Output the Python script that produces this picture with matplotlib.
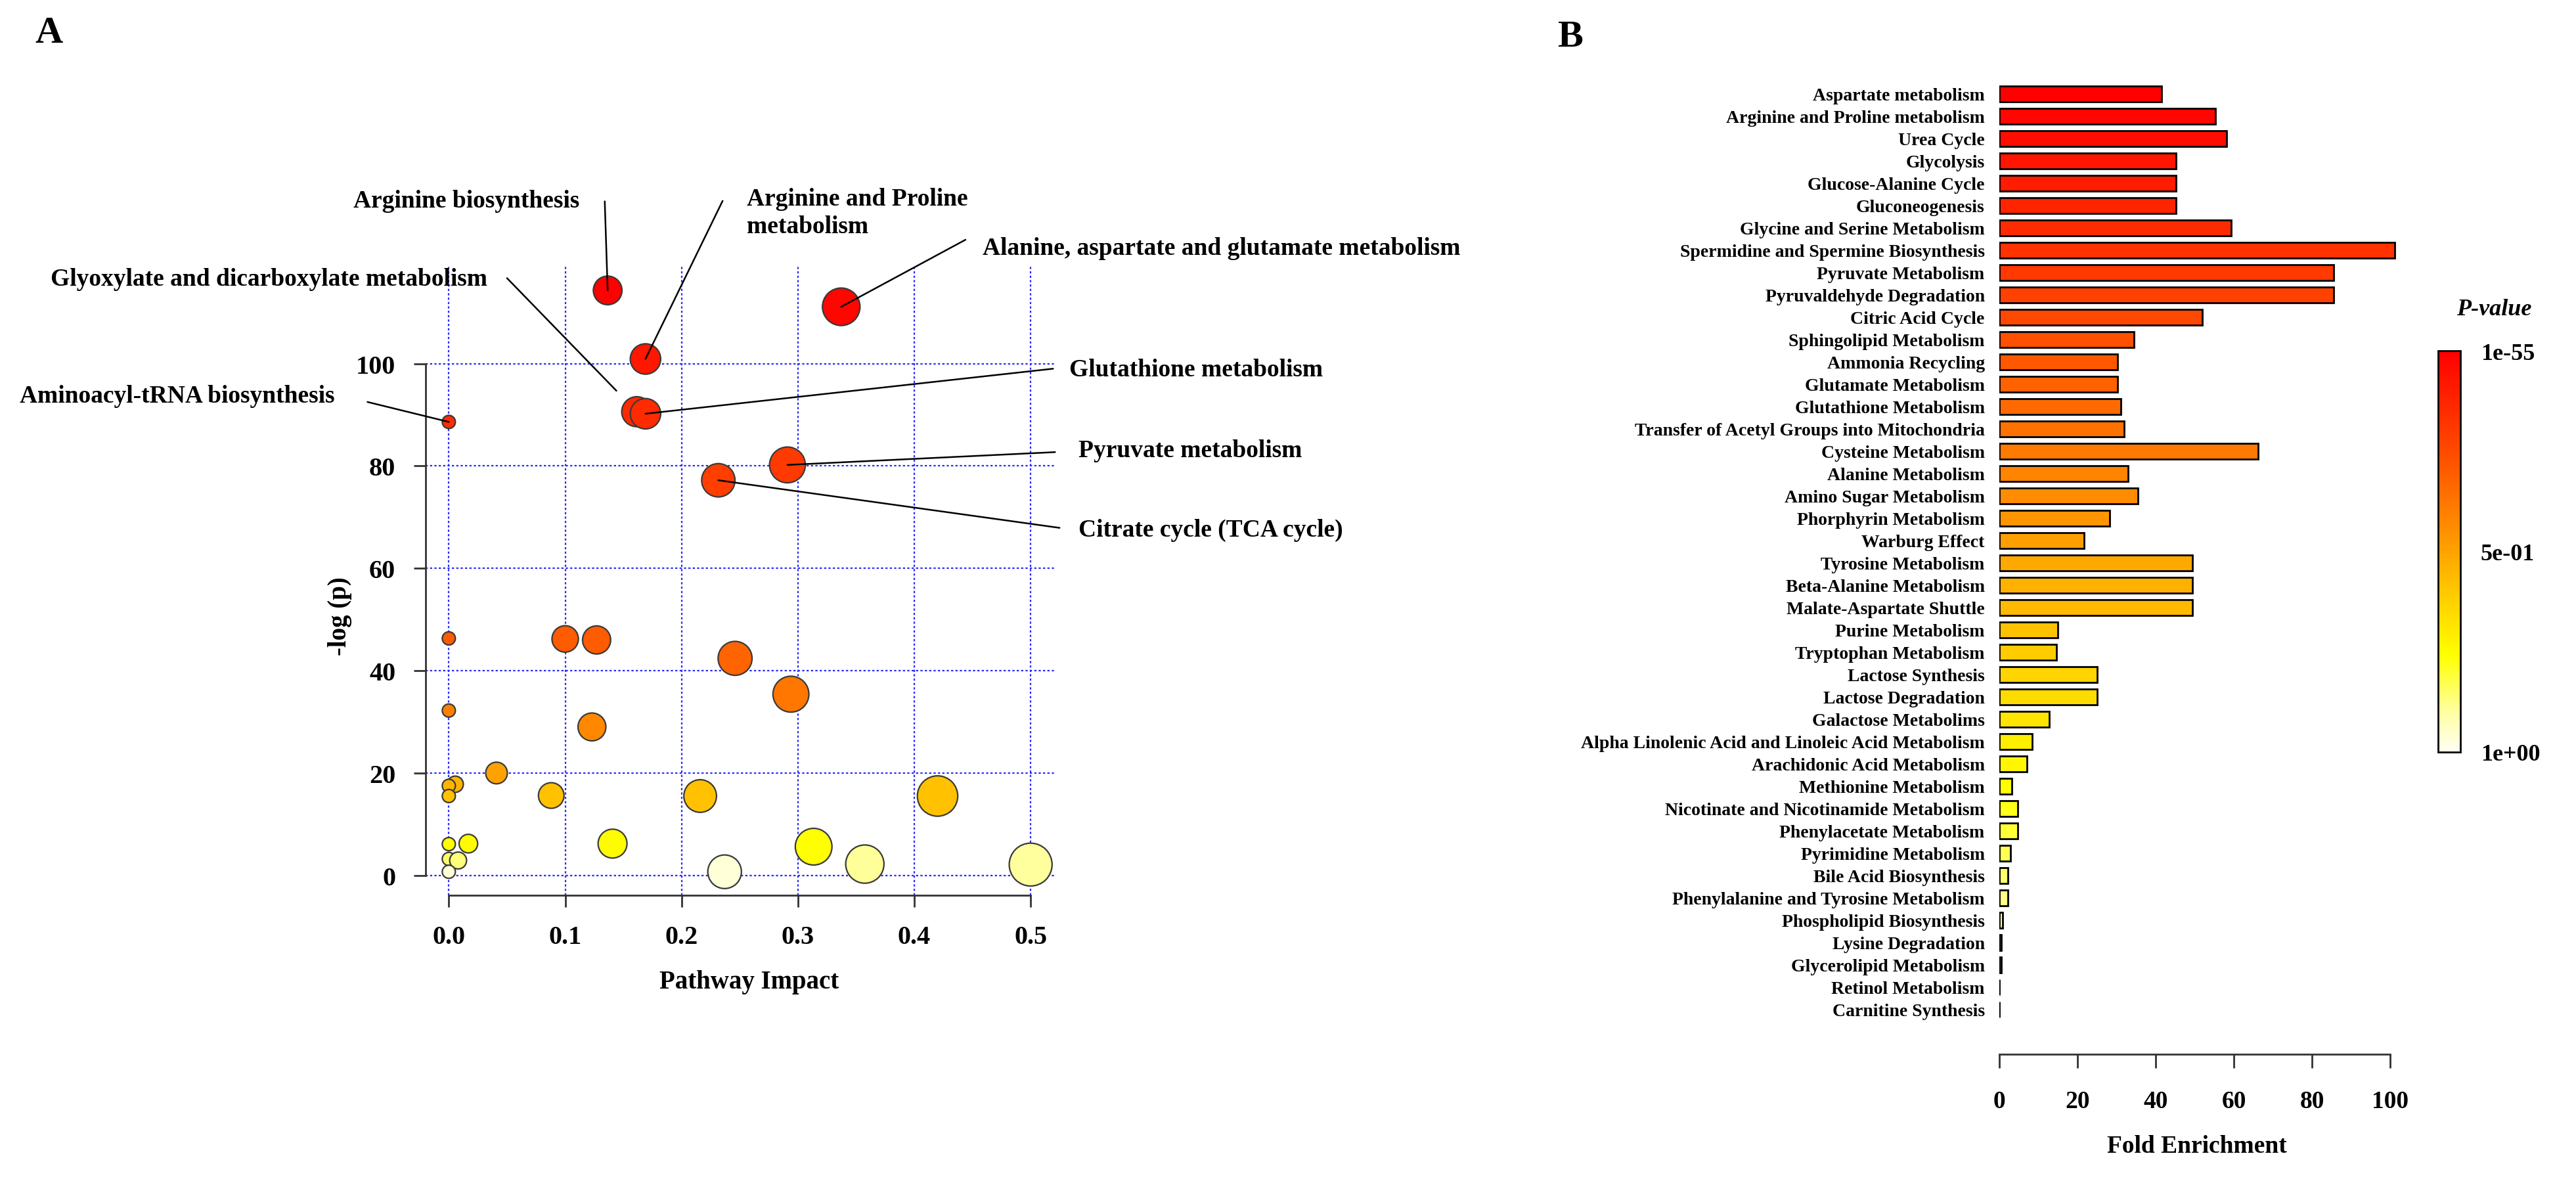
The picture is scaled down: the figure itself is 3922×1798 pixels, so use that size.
import numpy as np
import matplotlib.pyplot as plt
from matplotlib.colors import LinearSegmentedColormap
from matplotlib.cm import ScalarMappable

plt.rcParams['font.family'] = 'Liberation Serif'
plt.rcParams['font.weight'] = 'bold'

# ---- panel A: pathway impact vs -log(p)
impact = [0.0, 0.1365, 0.3372, 0.169, 0.1615, 0.169, 0.291, 0.2316,
          0.0, 0.1, 0.127, 0.246, 0.294, 0.0, 0.123, 0.041, 0.0055, 0.0, 0.0,
          0.088, 0.216, 0.420, 0.0, 0.0168, 0.1407, 0.3135, 0.0, 0.008, 0.0,
          0.237, 0.3575, 0.5]
neglogp = [88.6, 114.3, 111.1, 100.9, 90.6, 90.2, 80.2, 77.2,
           46.3, 46.2, 46.0, 42.4, 35.4, 32.2, 29.0, 20.0, 17.8, 17.5, 15.5,
           15.6, 15.5, 15.5, 6.1, 6.2, 6.2, 5.6, 3.2, 2.9, 0.7,
           0.7, 2.2, 2.1]

# labelled pathways, in the same order as the first eight points
labelled = ["Aminoacyl-tRNA biosynthesis", "Arginine biosynthesis",
            "Alanine, aspartate and glutamate metabolism",
            "Arginine and Proline\nmetabolism",
            "Glyoxylate and dicarboxylate metabolism",
            "Glutathione metabolism", "Pyruvate metabolism",
            "Citrate cycle (TCA cycle)"]

# ---- panel B: enrichment
pathways = ["Aspartate metabolism", "Arginine and Proline metabolism", "Urea Cycle",
            "Glycolysis", "Glucose-Alanine Cycle", "Gluconeogenesis",
            "Glycine and Serine Metabolism", "Spermidine and Spermine Biosynthesis",
            "Pyruvate Metabolism", "Pyruvaldehyde Degradation", "Citric Acid Cycle",
            "Sphingolipid Metabolism", "Ammonia Recycling", "Glutamate Metabolism",
            "Glutathione Metabolism", "Transfer of Acetyl Groups into Mitochondria",
            "Cysteine Metabolism", "Alanine Metabolism", "Amino Sugar Metabolism",
            "Phorphyrin Metabolism", "Warburg Effect", "Tyrosine Metabolism",
            "Beta-Alanine Metabolism", "Malate-Aspartate Shuttle", "Purine Metabolism",
            "Tryptophan Metabolism", "Lactose Synthesis", "Lactose Degradation",
            "Galactose Metabolims", "Alpha Linolenic Acid and Linoleic Acid Metabolism",
            "Arachidonic Acid Metabolism", "Methionine Metabolism",
            "Nicotinate and Nicotinamide Metabolism", "Phenylacetate Metabolism",
            "Pyrimidine Metabolism", "Bile Acid Biosynthesis",
            "Phenylalanine and Tyrosine Metabolism", "Phospholipid Biosynthesis",
            "Lysine Degradation", "Glycerolipid Metabolism", "Retinol Metabolism",
            "Carnitine Synthesis"]
fold = [41.6, 55.3, 58.1, 45.3, 45.3, 45.3, 59.4, 101.1, 85.5, 85.5, 51.9,
        34.4, 30.2, 30.2, 31.1, 32.0, 66.2, 33.0, 35.4, 28.3, 21.7,
        49.5, 49.5, 49.5, 15.0, 14.6, 25.0, 25.0, 12.8, 8.4, 7.1, 3.2,
        4.65, 4.65, 2.8, 2.25, 2.25, 0.8, 0.45, 0.45, 0.1, 0.1]
cbar_ticks = ["1e+00", "5e-01", "1e-55"]

heat = LinearSegmentedColormap.from_list(
    "heat", [(0.0, "#fffff2"), (0.1, "#ffffa0"), (0.24, "#ffff00"),
             (0.4, "#ffc800"), (0.55, "#ff9000"), (0.75, "#ff4a00"),
             (1.0, "#ff0000")])

fig = plt.figure(figsize=(19.615, 8.995), dpi=200)

# ================= A =================
ax = fig.add_axes([0.1652, 0.2420, 0.2441, 0.5329])
imp = np.array(impact)
nl = np.array(neglogp)
t = np.interp(nl, [0, 2, 5.6, 15.5, 20, 35, 46, 80, 115],
              [0.0, 0.1, 0.24, 0.42, 0.5, 0.62, 0.7, 0.8, 1.0])
diam = (20 + 64 * np.sqrt(imp)) * 72 / 200
ax.scatter(imp, nl, s=diam ** 2, c=heat(t), edgecolors="#3a3a3a",
           linewidths=0.8, zorder=3)

ax.set_xlim(-0.0199, 0.5206)
ax.set_ylim(-3.85, 119.2)
ax.set_xticks([0, 0.1, 0.2, 0.3, 0.4, 0.5])
ax.set_xticklabels(["0.0", "0.1", "0.2", "0.3", "0.4", "0.5"])
ax.set_yticks([0, 20, 40, 60, 80, 100])
ax.tick_params(labelsize=14.5, width=1.0, length=6.5, color="#333333")
ax.tick_params(axis="x", pad=10)
ax.tick_params(axis="y", pad=10)
ax.grid(True, color="#2a2aff", linestyle=(0, (1.5, 1.5)), linewidth=0.8)
ax.set_axisbelow(True)
for s in ["top", "right"]:
    ax.spines[s].set_visible(False)
ax.spines["left"].set_bounds(0, 100)
ax.spines["bottom"].set_bounds(0, 0.5)
for s in ["left", "bottom"]:
    ax.spines[s].set_color("#333333")
    ax.spines[s].set_linewidth(1.0)

fig.text(0.2908, 0.1687, "Pathway Impact", fontsize=14, ha="center", va="center")
fig.text(0.132, 0.4786, "-log (p)", fontsize=14, ha="center", va="center",
         rotation=90)

# label layout: (point index, text pos, ha, leader start, shrink at point)
layout = [(0, (-0.0981, 93.7), "right", (-0.0699, 92.5), 0),
          (1, (0.1122, 131.9), "right", (0.134, 131.7), 0),
          (2, (0.4587, 122.6), "left", (0.444, 124.2), 0),
          (3, (0.2563, 129.5), "left", (0.2353, 131.8), 0),
          (4, (0.033, 116.6), "right", (0.05, 116.7), 16),
          (5, (0.533, 98.8), "left", (0.5193, 99.0), 0),
          (6, (0.5412, 83.1), "left", (0.521, 82.7), 0),
          (7, (0.5412, 67.6), "left", (0.5249, 67.9), 0)]
for name, (i, tpos, ha, start, shr) in zip(labelled, layout):
    ax.text(tpos[0], tpos[1], name, fontsize=13.5, ha=ha, va="center",
            linespacing=1.25)
    ax.annotate("", xy=(impact[i], neglogp[i]), xytext=start,
                arrowprops=dict(arrowstyle="-", color="black", lw=0.9,
                                shrinkA=0, shrinkB=shr),
                annotation_clip=False, zorder=4)

# ================= B =================
bx = fig.add_axes([0.7759, 0.1073, 0.1593, 0.8222])
n = len(pathways)
ypos = np.arange(n)[::-1]
bcol = heat(1 - np.arange(n) / (n - 1))
bx.barh(ypos, fold, height=0.69, color=bcol, edgecolor="black", linewidth=1.0)
bx.set_ylim(-2.0, n - 0.5)
bx.set_xlim(0, 105)
bx.set_yticks(ypos)
bx.set_yticklabels(pathways, fontsize=10)
bx.tick_params(axis="y", length=0, pad=8)
bx.set_xticks([0, 20, 40, 60, 80, 100])
bx.tick_params(axis="x", labelsize=13.5, length=7.5, width=1.0,
               color="#333333", pad=12)
for s in ["top", "right", "left"]:
    bx.spines[s].set_visible(False)
bx.spines["bottom"].set_bounds(0, 100)
bx.spines["bottom"].set_color("#333333")
bx.spines["bottom"].set_linewidth(1.0)
fig.text(0.8527, 0.0295, "Fold Enrichment", fontsize=13.5, ha="center",
         va="center")

# colour key
cax = fig.add_axes([0.9462, 0.363, 0.0087, 0.3396])
cb = fig.colorbar(ScalarMappable(cmap=heat), cax=cax, ticks=[0, 0.5, 1])
cb.set_ticklabels(cbar_ticks)
cb.ax.tick_params(length=0, labelsize=13, pad=11)
cb.outline.set_linewidth(1.0)
fig.text(0.968, 0.738, "P-value", fontsize=13, style="italic", ha="center",
         va="center")

fig.text(0.0189, 0.9718, "A", fontsize=21, ha="center", va="center")
fig.text(0.6094, 0.9685, "B", fontsize=21, ha="center", va="center")

fig.savefig("out.png", dpi=200, facecolor="white")
